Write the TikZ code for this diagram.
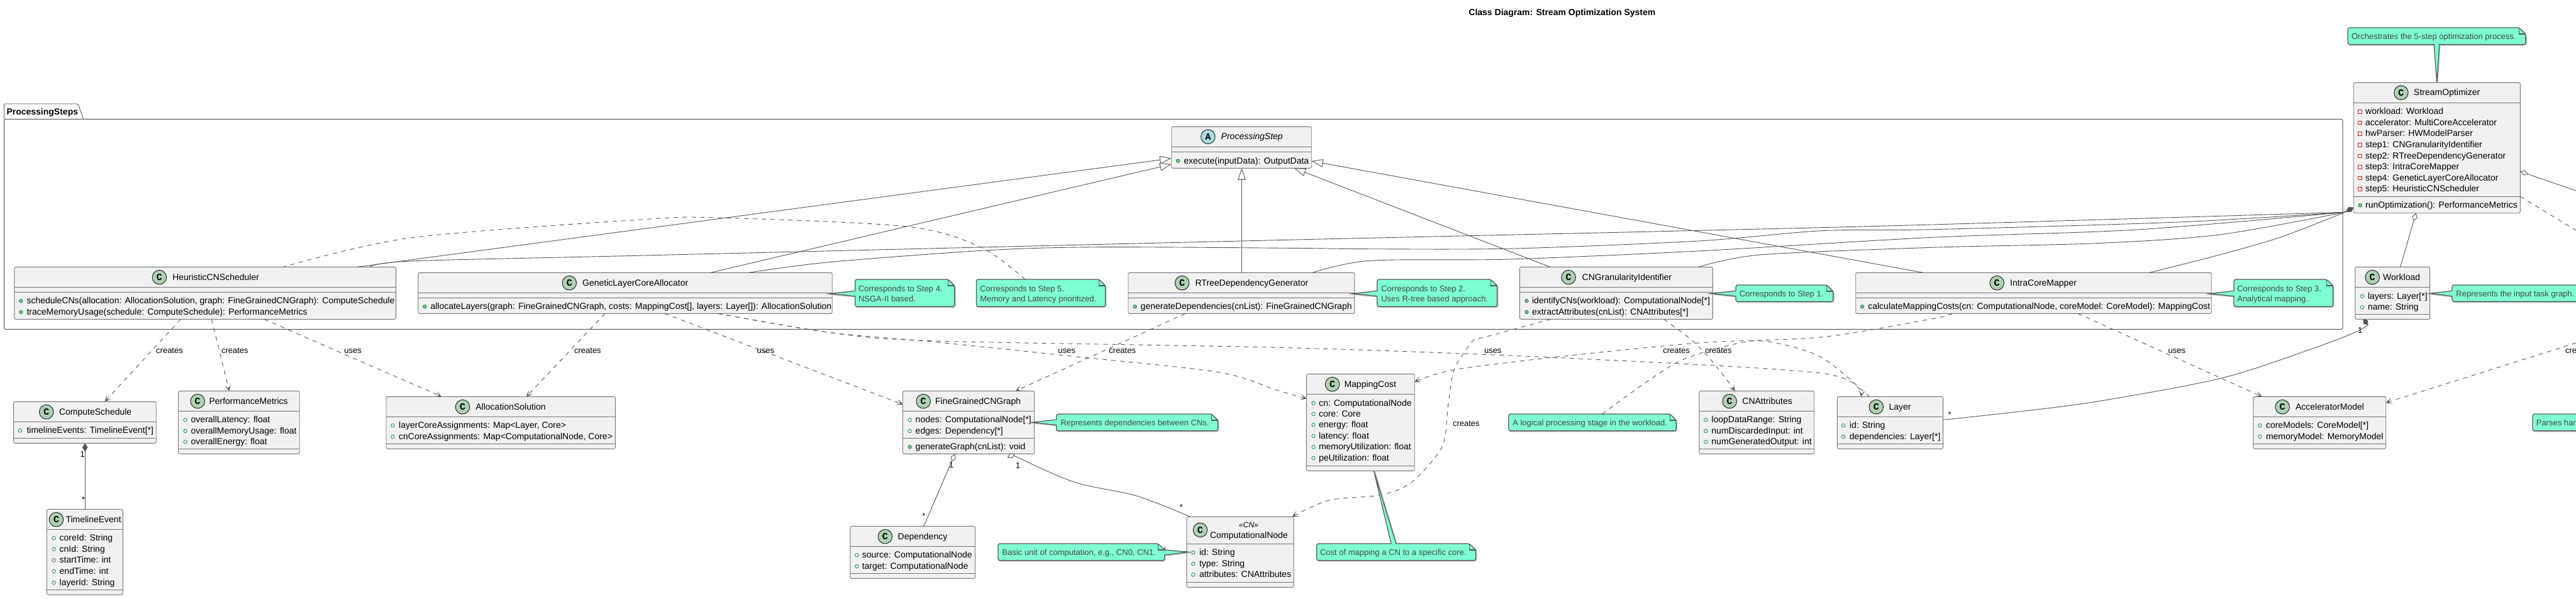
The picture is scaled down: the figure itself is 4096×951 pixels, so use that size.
\documentclass[tikz,border=0pt]{standalone}
\usepackage{fontspec}
\setmainfont{Liberation Sans}
\newfontfamily\lettermono{Liberation Mono}
\usetikzlibrary{arrows.meta,calc}
\definecolor{lineg}{HTML}{555555}
\definecolor{boxg}{HTML}{777777}
\definecolor{classfill}{HTML}{F1F1F1}
\definecolor{mint}{HTML}{7FFFD4}
\definecolor{notetxt}{HTML}{444444}
\definecolor{circC}{HTML}{ADD1B2}
\definecolor{circA}{HTML}{A9DCDF}
\definecolor{pubg}{HTML}{038048}
\definecolor{pubf}{HTML}{84BE84}
\definecolor{privr}{HTML}{C82930}
\tikzset{
  mem/.style={anchor=west,inner sep=0pt,outer sep=0pt,text height=11pt,text depth=2pt,font=\fontsize{14}{16}\selectfont},
  elabel/.style={mem,font=\fontsize{13}{15}\selectfont},
  ntext/.style={mem,font=\fontsize{13}{15}\selectfont,text=notetxt},
  ttl/.style={mem,font=\bfseries\fontsize{14}{16}\selectfont},
  ital/.style={mem,font=\itshape\fontsize{14}{16}\selectfont},
  ster/.style={anchor=center,inner sep=0pt,outer sep=0pt,font=\itshape\fontsize{12}{14}\selectfont},
  cletter/.style={anchor=center,inner sep=0pt,outer sep=0pt,font=\lettermono\bfseries\fontsize{15}{15}\selectfont},
  clsnode/.style={draw=boxg,fill=classfill,line width=0.9pt,rounded corners=2.5pt,anchor=north west,inner sep=0pt,outer sep=0pt},
  sepline/.style={draw=boxg,line width=0.9pt},
  circ/.style={draw=black!90,line width=0.9pt},
  pubfld/.style={draw=pubg,line width=0.7pt},
  pubmth/.style={draw=pubg,fill=pubf,line width=0.7pt},
  prvfld/.style={draw=privr,line width=0.8pt},
  conn/.style={draw=lineg,line width=0.9pt},
  inh/.style={conn,-{Triangle[open,length=18.5pt,width=12.5pt,fill=white]}},
  dep/.style={conn,dash pattern=on 7pt off 7pt,-{Stealth[length=10pt,width=10pt,inset=6pt]}},
  notelink/.style={conn,dash pattern=on 7pt off 7pt},
  comp/.style={conn,{Diamond[length=13.5pt,width=8.5pt]}-},
  agg/.style={conn,{Diamond[open,length=13.5pt,width=8.5pt,fill=white]}-},
  noteshade/.style={draw=black!25,line width=1.6pt,rounded corners=3pt},
  notebody/.style={draw=lineg,fill=mint,line width=1.2pt,rounded corners=3pt},
  noteanchor/.style={anchor=north west,inner sep=0pt,outer sep=0pt},
}
\newcount\txn
\newcommand{\tx}[4]{\global\advance\txn by 1 \node[#1] (t\the\txn) at (#2,#3) {#4};}
\newcommand{\fld}[4]{\draw[pubfld] (#1,#3) circle[radius=2.8pt]; \tx{mem}{#2}{#3}{#4}}
\newcommand{\mth}[4]{\draw[pubmth] (#1,#3) circle[radius=2.8pt]; \tx{mem}{#2}{#3}{#4}}
\newcommand{\prv}[4]{\draw[prvfld] ({#1-2.8},{#3-2.8}) rectangle ({#1+2.8},{#3+2.8}); \tx{mem}{#2}{#3}{#4}}
% id, L, T, R, B, sep1, sep2
\newcommand{\clsbox}[7]{%
  \node[clsnode,minimum width={(#4-#2)*1pt},minimum height={(#5-#3)*1pt}] (#1) at (#2,#3) {};
  \draw[sepline] (#1.west |- 0,#6) -- (#1.east |- 0,#6);
  \draw[sepline] (#1.west |- 0,#7) -- (#1.east |- 0,#7);}
\newcommand{\chead}[4]{%
  \draw[circ,fill=circC] (#1,#2) circle[radius=11.3pt];
  \tx{cletter}{#1}{#2}{C}
  \tx{mem}{#3}{#2}{#4}}
% name, L, T, R, B, top pts, right pts, bottom pts, left pts
\newcommand{\notepoly}[9]{%
  \node[noteanchor,minimum width={(#4-#2)*1pt},minimum height={(#5-#3)*1pt}] (#1) at (#2,#3) {};
  \draw[noteshade,shift={(1.2,1.2)}] (#2,#3) #6 -- ({#4-10},#3) -- (#4,{#3+10}) #7 -- (#4,#5) #8 -- (#2,#5) #9 -- cycle;
  \draw[notebody] (#2,#3) #6 -- ({#4-10},#3) -- (#4,{#3+10}) #7 -- (#4,#5) #8 -- (#2,#5) #9 -- cycle;
  \draw[draw=lineg,line width=1.2pt] ({#4-10},#3) -- ({#4-10},{#3+10}) -- (#4,{#3+10});}
\begin{document}
\begin{tikzpicture}[x=1pt,y=-1pt]
\useasboundingbox (0,0) rectangle (4096,951);
\fill[white] (0,0) rectangle (4096,951);

\tx{ttl}{2335.4}{20}{Class Diagram: Stream Optimization System}

% package
\node[draw=lineg,line width=1pt,rounded corners=2.5pt,anchor=north west,inner sep=0pt,outer sep=0pt,minimum width=3718.5pt,minimum height=334pt] (pkg) at (6.5,189.3) {};
\draw[draw=lineg,line width=0.9pt,rounded corners=2pt] (pkg.north west) -- (6.5,165) -- (124,165) -- (132.6,189.3);
\tx{ttl}{10.5}{177.7}{ProcessingSteps}

% classes
\clsbox{hcs}{22.9}{424.3}{629.6}{507.3}{456.3}{464.3}
\chead{253.4}{440.7}{274.3}{HeuristicCNScheduler}
\mth{33.3}{42.5}{478.3}{scheduleCNs(allocation: AllocationSolution, graph: FineGrainedCNGraph): ComputeSchedule}
\mth{33.3}{42.5}{496.0}{traceMemoryUsage(schedule: ComputeSchedule): PerformanceMetrics}

\clsbox{gla}{664.9}{433.3}{1323.2}{498.3}{465.3}{473.3}
\chead{905.3}{449.7}{926.2}{GeneticLayerCoreAllocator}
\mth{675.4}{684.5}{487.3}{allocateLayers(graph: FineGrainedCNGraph, costs: MappingCost[], layers: Layer[]): AllocationSolution}

\clsbox{ps}{1862.7}{201.3}{2085.2}{267.3}{233.3}{241.3}
\draw[circ,fill=circA] (1920.8,217.3) circle[radius=11.3pt];
\tx{cletter}{1920.8}{217.3}{A}
\tx{ital}{1941.7}{217.3}{ProcessingStep}
\mth{1873.1}{1882.3}{255.7}{execute(inputData): OutputData}

\clsbox{rtd}{1794}{433.3}{2153.8}{498.3}{465.3}{473.3}
\chead{1879.6}{449.7}{1900.5}{RTreeDependencyGenerator}
\mth{1804.5}{1813.7}{487.3}{generateDependencies(cnList): FineGrainedCNGraph}

\clsbox{cgi}{2416.4}{424.3}{2723.4}{507.3}{456.3}{464.3}
\chead{2494.1}{440.7}{2515.7}{CNGranularityIdentifier}
\mth{2427.5}{2436}{478.3}{identifyCNs(workload): ComputationalNode[*]}
\mth{2427.5}{2436}{496.0}{extractAttributes(cnList): CNAttributes[*]}

\clsbox{icm}{2950.7}{433.3}{3516.2}{498.3}{465.3}{473.3}
\chead{3175.2}{449.7}{3196.1}{IntraCoreMapper}
\mth{2961.1}{2970.3}{487.3}{calculateMappingCosts(cn: ComputationalNode, coreModel: CoreModel): MappingCost}

\clsbox{so}{3742.2}{131.3}{4007.3}{338.7}{163.3}{312.3}
\chead{3817.9}{147.3}{3838.2}{StreamOptimizer}
\prv{3752.6}{3761.1}{177.3}{workload: Workload}
\prv{3752.6}{3761.1}{195.0}{accelerator: MultiCoreAccelerator}
\prv{3752.6}{3761.1}{212.3}{hwParser: HWModelParser}
\prv{3752.6}{3761.1}{230.3}{step1: CNGranularityIdentifier}
\prv{3752.6}{3761.1}{248.0}{step2: RTreeDependencyGenerator}
\prv{3752.6}{3761.1}{265.3}{step3: IntraCoreMapper}
\prv{3752.6}{3761.1}{283.0}{step4: GeneticLayerCoreAllocator}
\prv{3752.6}{3761.1}{300.3}{step5: HeuristicCNScheduler}
\mth{3752.6}{3761.1}{326.3}{runOptimization(): PerformanceMetrics}

\clsbox{wl}{3744.8}{424.3}{3863.6}{507.3}{456.3}{499.3}
\chead{3772.2}{440.7}{3789.2}{Workload}
\fld{3755.9}{3765}{470.7}{layers: Layer[*]}
\fld{3755.9}{3765}{488.3}{name: String}

\clsbox{cs}{21.6}{638.3}{248.2}{704.3}{670.3}{696.3}
\chead{73.8}{654.7}{94.1}{ComputeSchedule}
\fld{32}{42.5}{684.3}{timelineEvents: TimelineEvent[*]}

\clsbox{pm}{283.5}{621.3}{476.2}{721.3}{653.3}{713.3}
\chead{314.2}{637.7}{332.5}{PerformanceMetrics}
\fld{294.6}{303.7}{667.3}{overallLatency: float}
\fld{294.6}{303.7}{685}{overallMemoryUsage: float}
\fld{294.6}{303.7}{702.3}{overallEnergy: float}

\clsbox{as}{614}{630.3}{978.4}{713.3}{662.3}{705.3}
\chead{735.5}{646.7}{756.4}{AllocationSolution}
\fld{624.4}{634.2}{676.3}{layerCoreAssignments: Map<Layer, Core>}
\fld{624.4}{634.2}{694}{cnCoreAssignments: Map<ComputationalNode, Core>}

\clsbox{te}{74.5}{809.3}{195.3}{945.3}{841.3}{937.3}
\chead{89.5}{825.7}{104.5}{TimelineEvent}
\fld{85.6}{94.7}{855.3}{coreId: String}
\fld{85.6}{94.7}{873}{cnId: String}
\fld{85.6}{94.7}{890.3}{startTime: int}
\fld{85.6}{94.7}{908}{endTime: int}
\fld{85.6}{94.7}{926}{layerId: String}

\clsbox{fcg}{1435.5}{621.3}{1644.5}{721.3}{653.3}{696.3}
\chead{1468.2}{637.7}{1487.1}{FineGrainedCNGraph}
\fld{1446.6}{1455.7}{667.3}{nodes: ComputationalNode[*]}
\fld{1446.6}{1455.7}{685}{edges: Dependency[*]}
\mth{1446.6}{1455.7}{710.3}{generateGraph(cnList): void}

\clsbox{dep}{1351.9}{836.3}{1550.5}{919.3}{868.3}{911.3}
\chead{1407.4}{852.7}{1427.7}{Dependency}
\fld{1362.3}{1370.8}{882.3}{source: ComputationalNode}
\fld{1362.3}{1370.8}{900}{target: ComputationalNode}

\clsbox{cn}{1886.8}{821.3}{2057.1}{933.3}{864.3}{925.3}
\draw[circ,fill=circC] (1908.4,842.3) circle[radius=11.3pt];
\tx{cletter}{1908.4}{842.3}{C}
\tx{ster}{1985.5}{834.7}{«CN»}
\tx{mem}{1924}{851.3}{ComputationalNode}
\fld{1897.3}{1907}{878.3}{id: String}
\fld{1897.3}{1907}{896}{type: String}
\fld{1897.3}{1907}{913.3}{attributes: CNAttributes}

\clsbox{mc}{2077.4}{594.3}{2249.2}{748.3}{626.3}{740.3}
\chead{2118.5}{610.7}{2137.5}{MappingCost}
\fld{2088.5}{2097}{640.7}{cn: ComputationalNode}
\fld{2088.5}{2097}{658}{core: Core}
\fld{2088.5}{2097}{675.3}{energy: float}
\fld{2088.5}{2097}{693}{latency: float}
\fld{2088.5}{2097}{710.3}{memoryUtilization: float}
\fld{2088.5}{2097}{728}{peUtilization: float}

\clsbox{cna}{2701.8}{621.3}{2884.7}{721.3}{653.3}{713.3}
\chead{2750.2}{637.7}{2770.4}{CNAttributes}
\fld{2712.3}{2721.4}{667.3}{loopDataRange: String}
\fld{2712.3}{2721.4}{685}{numDiscardedInput: int}
\fld{2712.3}{2721.4}{702.3}{numGeneratedOutput: int}

\clsbox{ly}{2921.3}{630.3}{3089.6}{713.3}{662.3}{705.3}
\chead{2983.3}{646.7}{3003.6}{Layer}
\fld{2931.1}{2940.9}{676.3}{id: String}
\fld{2931.1}{2940.9}{694}{dependencies: Layer[*]}

\clsbox{am}{3582.8}{630.3}{3793.7}{713.3}{662.3}{705.3}
\chead{3629.2}{646.7}{3650}{AcceleratorModel}
\fld{3593.2}{3603}{676.3}{coreModels: CoreModel[*]}
\fld{3593.2}{3603}{694}{memoryModel: MemoryModel}

% free ends beyond the picture edge
\coordinate (offAgg) at (4110,308);
\coordinate (offDash) at (4110,374.6);
\coordinate (offCre) at (4110,540.6);

% generalizations
\draw[inh] (568.3,0 |- hcs.north) -- (ps.west |- 0,251.7);
\draw[inh] (1129.8,0 |- gla.north) -- (ps.west |- 0,261);
\draw[inh] (1974.4,0 |- rtd.north) -- (1974.4,0 |- ps.south);
\draw[inh] (2464.7,0 |- cgi.north) -- (2057.8,0 |- ps.south);
\draw[inh] (3057.8,0 |- icm.north) -- (ps.east |- 0,256);

% compositions to StreamOptimizer
\draw[comp] (so.west |- 0,330) -- plot[smooth,tension=.5] coordinates {(3728.4,337.3) (3072,357) (2685,366.7) (1974,383) (1024,406) (653,415) (587.8,0 |- hcs.north)};
\draw[comp] (so.west |- 0,330) -- plot[smooth,tension=.5] coordinates {(3728.4,337.3) (3464,353) (3072,364.7) (2897,366.7) (2701,383) (2407,395) (2178.6,395.7) (2048,394.3) (1742.5,392.7) (1566,398) (1318,416.7) (1190.6,0 |- gla.north)};
\draw[comp] (so.west |- 0,330) -- plot[smooth,tension=.5] coordinates {(3728.4,337.3) (3398.6,365) (3072,377.3) (2700,399) (2400,412) (2178.6,414.3) (2087,0 |- rtd.north)};
\draw[comp] (so.west |- 0,330) -- plot[smooth,tension=.5] coordinates {(3728.4,337.3) (3529,373) (3333,386.7) (3072,393.3) (2799,405) (2701,0 |- cgi.north)};
\draw[comp] (so.west |- 0,330) -- plot[smooth,tension=.5] coordinates {(3728.4,337.3) (3627,376.7) (3529,405) (3418,0 |- icm.north)};

% aggregations and compositions
\draw[agg] (3841.5,0 |- so.south) -- (3816.6,0 |- wl.north);
\draw[agg] (so.east |- 0,272.5) -- (offAgg);
\draw[conn,{Diamond[length=12pt,width=9pt]}-] plot[smooth,tension=.55] coordinates {(3757.5,0 |- wl.south) (3751,525) (3660,560) (3529,601.7) (3333,638.3) (3202.6,655) (ly.east |- 0,667.3)};
\draw[comp] (135.2,0 |- cs.south) -- (135.2,0 |- te.north);
\draw[agg] (1518.4,0 |- fcg.south) -- (1468.8,0 |- dep.north);
\draw[agg] plot[smooth,tension=.55] coordinates {(1613.8,0 |- fcg.south) (1625,730) (1709.8,766.7) (1807.8,788.3) (1892.7,0 |- cn.north)};

% dependencies
\draw[dep] (287.4,0 |- hcs.south) -- (166.6,0 |- cs.north);
\draw[dep] (336.4,0 |- hcs.south) -- (364.5,0 |- pm.north);
\draw[dep] (420,0 |- hcs.south) -- (702,0 |- as.north);
\draw[dep] (962,0 |- gla.south) -- (837.3,0 |- as.north);
\draw[dep] (1056.7,0 |- gla.south) -- (fcg.west |- 0,642.7);
\draw[dep] plot[smooth,tension=.5] coordinates {(1141.6,0 |- gla.south) (1318,528.3) (1481,541.7) (2048,552.7) (2472.6,568.3) (2897,593.3) (2959,0 |- ly.north)};
\draw[dep] plot[smooth,tension=.5] coordinates {(1141.6,0 |- gla.south) (1318,528.3) (1481,543) (1710,566.7) (1938.4,591.7) (2030,620) (mc.west |- 0,633.5)};
\draw[dep] (1884.9,0 |- rtd.south) -- (1615.1,0 |- fcg.north);
\draw[dep] plot[smooth,tension=.5] coordinates {(2466,0 |- cgi.south) (2361.5,535.7) (2342,541.7) (2312.5,586.7) (2302.7,643.3) (2293,710) (2244,766.7) (2195,786.7) (2113.3,795) (2054.5,0 |- cn.north)};
\draw[dep] plot[smooth,tension=.5] coordinates {(2645.6,0 |- cgi.south) (2691.4,541.7) (2727.3,580) (2758.6,0 |- cna.north)};
\draw[dep] plot[smooth,tension=.5] coordinates {(3104.7,0 |- icm.south) (3072,506.7) (2897,535.7) (2701,545) (2466,568.3) (2309,588.3) (mc.east |- 0,607)};
\draw[dep] (3303.9,0 |- icm.south) -- (3596.5,0 |- am.north);
\draw[dep] (offCre) -- (am.east |- 0,640);
\draw[notelink] (so.east |- 0,312.3) -- (offDash);

% connector labels
\tx{elabel}{248.2}{557}{creates}
\tx{elabel}{352}{557}{creates}
\tx{elabel}{547.4}{557}{uses}
\tx{elabel}{913.1}{557}{creates}
\tx{elabel}{1203.6}{557}{uses}
\tx{elabel}{1682.4}{557}{uses}
\tx{elabel}{1763.4}{557}{creates}
\tx{elabel}{2360}{557}{uses}
\tx{elabel}{2644.3}{557}{creates}
\tx{elabel}{2711}{557}{creates}
\tx{elabel}{3447.6}{557}{uses}
\tx{elabel}{4079}{557}{cre}
\tx{elabel}{2310}{672.7}{creates}
\tx{elabel}{3749}{525}{1}
\tx{elabel}{3097.5}{659}{*}
\tx{elabel}{127.5}{721.7}{1}
\tx{elabel}{130}{793.5}{*}
\tx{elabel}{1509}{739.3}{1}
\tx{elabel}{1466.3}{819.5}{*}
\tx{elabel}{1615}{740}{1}
\tx{elabel}{1875.8}{805.5}{*}

% notes
\notepoly{n4}{1359.7}{444}{1517.8}{487.3}{}{}{}{[sharp corners] -- (1359.7,470.7) -- ($(gla.east |- 0,466.7)+(-4,0)$) -- (1359.7,462.3) [rounded corners=3pt]}
\tx{ntext}{1365}{459}{Corresponds to Step 4.}
\tx{ntext}{1365}{475}{NSGA-II based.}

\notepoly{n5}{1552.4}{444}{1757.5}{487.3}{}{}{}{}
\tx{ntext}{1558.3}{459}{Corresponds to Step 5.}
\tx{ntext}{1558.3}{475}{Memory and Latency prioritized.}

\notepoly{n2}{2189.7}{444}{2380.5}{487.3}{}{}{}{[sharp corners] -- (2189.7,470.7) -- ($(rtd.east |- 0,466.7)+(-3,0)$) -- (2189.7,462.3) [rounded corners=3pt]}
\tx{ntext}{2196.3}{459}{Corresponds to Step 2.}
\tx{ntext}{2196.3}{475}{Uses R-tree based approach.}

\notepoly{n1}{2760}{453}{2914.8}{479.3}{}{}{}{[sharp corners] -- (2760,470.7) -- ($(cgi.east |- 0,466.3)+(-3,0)$) -- (2760,462.3) [rounded corners=3pt]}
\tx{ntext}{2765.8}{467.3}{Corresponds to Step 1.}

\notepoly{n3}{3552}{444}{3709.5}{487.3}{}{}{}{[sharp corners] -- (3552,470.7) -- ($(icm.east |- 0,466.7)+(-3,0)$) -- (3552,462.3) [rounded corners=3pt]}
\tx{ntext}{3557.3}{459}{Corresponds to Step 3.}
\tx{ntext}{3557.3}{475}{Analytical mapping.}

\notepoly{nso}{3733}{44}{4015.8}{70.7}{}{}{[sharp corners] -- (3878.7,70.7) -- (3874.7,0 |- so.north) -- (3870.2,70.7) [rounded corners=3pt]}{}
\tx{ntext}{3739}{58.3}{Orchestrates the 5-step optimization process.}

\notepoly{nwl}{3899}{453}{4130}{479.3}{}{}{}{[sharp corners] -- (3899,470.7) -- (wl.east |- 0,466.3) -- (3899,462.3) [rounded corners=3pt]}
\tx{ntext}{3905.4}{467.3}{Represents the input task graph.}

\notepoly{nfcg}{1679.8}{658}{1936.5}{684.7}{}{}{}{[sharp corners] -- (1679.8,675.5) -- ($(fcg.east |- 0,671.3)+(-3,0)$) -- (1679.8,667) [rounded corners=3pt]}
\tx{ntext}{1686.3}{672.3}{Represents dependencies between CNs.}

\notepoly{nbas}{1587}{864}{1851.6}{890.7}{}{[sharp corners] -- (1851.6,874) -- ($(cn.west |- 0,877.3)+(3,0)$) -- (1851.6,882) [rounded corners=3pt]}{}{}
\tx{ntext}{1593.6}{878.3}{Basic unit of computation, e.g., CN0, CN1.}

\notepoly{nmc}{2093.7}{864}{2346.5}{890.7}{[sharp corners] -- (2212,864) -- (2184.5,0 |- mc.south) -- (2219.8,864) [rounded corners=3pt]}{}{}{}
\tx{ntext}{2099}{878.3}{Cost of mapping a CN to a specific core.}

\notepoly{nly}{2398.8}{658}{2665.2}{684.7}{}{}{}{}
\tx{ntext}{2405.3}{672.3}{A logical processing stage in the workload.}

\notepoly{nparse}{4027}{658}{4130}{684.7}{}{}{}{}
\tx{ntext}{4032.8}{672.3}{Parses har}

% dashed note links
\draw[notelink] plot[smooth,tension=.5] coordinates {(1630,0 |- n5.north) (1559.6,393) (1442,360) (1141.6,346) (1024,348.7) (653,378) (450.7,0 |- hcs.north)};
\draw[notelink] plot[smooth,tension=.5] coordinates {(2547.7,0 |- nly.north) (2665.2,576.7) (2766.5,545) (2818.7,544) (2897,568.3) (2972.2,0 |- ly.north)};
\end{tikzpicture}
\end{document}
